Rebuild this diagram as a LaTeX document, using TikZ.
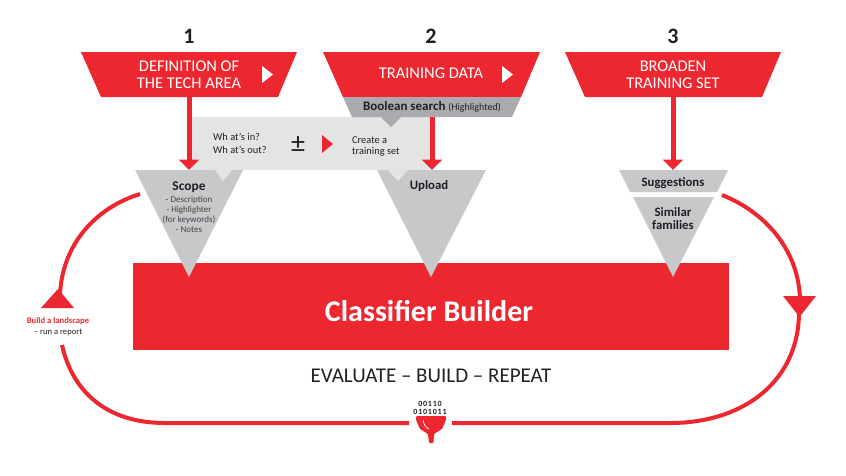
\documentclass[tikz,border=0pt]{standalone}
\usepackage{fontspec}
\setmainfont{Carlito}
\usetikzlibrary{arrows.meta}
\definecolor{cred}{HTML}{EC2730}
\definecolor{cgray}{HTML}{C6C8CA}
\definecolor{clight}{HTML}{E3E4E4}
\definecolor{cdark}{HTML}{A9ABAE}
\definecolor{cink}{HTML}{1F2024}
\newcommand{\fs}[1]{\fontsize{#1}{#1}\selectfont}
\tikzset{
  redshape/.style={fill=cred,draw=none},
  grayshape/.style={fill=cgray,draw=none},
  lightshape/.style={fill=clight,draw=none},
  darkshape/.style={fill=cdark,draw=none},
  playw/.style={fill=white,draw=none},
  banner/.style={text=white,font=\fs{16.4},align=center,inner sep=0pt},
  num/.style={text=cink,font=\fs{22}\bfseries,inner sep=0pt},
  head/.style={text=cink,font=\fs{12.8}\bfseries,inner sep=0pt,align=center},
  small/.style={text=cink!85,font=\fs{9},inner sep=0pt,align=center},
  call/.style={text=cink,font=\fs{10.4},inner sep=0pt,align=left,anchor=west},
  flow/.style={draw=cred,line width=5pt,-{Triangle[width=20pt,length=10.5pt]}},
  loopline/.style={draw=cred,line width=4pt},
  digits/.style={text=cink,font=\fs{8}\bfseries\addfontfeature{LetterSpace=10},inner sep=0pt},
}
\begin{document}
\begin{tikzpicture}[x=1pt,y=-1pt]
\useasboundingbox (0,0) rectangle (846,475);
% named anchor points
\coordinate (b1) at (189,97);
\coordinate (s1) at (189,170);
\coordinate (b2) at (432,117);
\coordinate (s2) at (432,170);
\coordinate (b3) at (673,97);
\coordinate (s3) at (673,170);
% banners
\fill[redshape] (81,52) -- (297,52) -- (278,97) -- (101,97) -- cycle;
\fill[redshape] (323,52) -- (540,52) -- (521,97) -- (343,97) -- cycle;
\fill[redshape] (565,52) -- (781,52) -- (762,97) -- (585,97) -- cycle;
% main block
\node[redshape,minimum width=596pt,minimum height=87pt,inner sep=0pt,anchor=north west] (cb) at (133,263) {};
\node[text=white,font=\fs{30}\bfseries,inner sep=0pt] (cbt) at (429,311) {Classifier Builder};
% gray triangles
\fill[grayshape] (135,170) -- (243,170) -- (189,277) -- cycle;
\fill[grayshape] (377,170) -- (486,170) -- (431,277) -- cycle;
\fill[grayshape] (619,170) -- (728,170) -- (717,192) -- (630,192) -- cycle;
\fill[grayshape] (633,197) -- (714,197) -- (673,277) -- cycle;
% callout
\fill[lightshape] (192,117) -- (430,117) -- (430,170) -- (192,170) -- cycle;
\fill[lightshape] (215,170) -- (232,170) -- (223,181) -- cycle;
\fill[lightshape] (388,170) -- (408,170) -- (398,181) -- cycle;
% boolean strip
\fill[darkshape] (343,97) -- (521,97) -- (512,117) -- (352,117) -- cycle;
\fill[darkshape] (381,117) -- (401,117) -- (391,127) -- cycle;
\node[inner sep=0pt,text=cink] (bool) at (432,107) {\fs{13}\bfseries Boolean search \fs{10}\mdseries(Highlighted)};
% connectors
\draw[flow] (b1) -- (s1);
\draw[flow] (b2) -- (s2);
\draw[flow] (b3) -- (s3);
% play marks
\fill[playw] (262,66) -- (273,74.5) -- (262,83) -- cycle;
\fill[playw] (502,66) -- (513,74.5) -- (502,83) -- cycle;
\fill[redshape] (322,135) -- (333,144) -- (322,153) -- cycle;
% texts
\node[num] (n1) at (189,36) {1};
\node[num] (n2) at (431,36) {2};
\node[num] (n3) at (673,36) {3};
\node[banner] (t1a) at (189,66) {DEFINITION OF};
\node[banner] (t1b) at (189,83) {THE TECH AREA};
\node[banner] (t2) at (431,73.5) {TRAINING DATA};
\node[banner] (t3a) at (673,66) {BROADEN};
\node[banner] (t3b) at (673,83) {TRAINING SET};
\node[call] (w1) at (213,137) {Wh at’s in?};
\node[call] (w2) at (213,149.5) {Wh at’s out?};
\node[call] (c1) at (352,140) {Create a};
\node[call] (c2) at (352,152) {training set};
\node[inner sep=0pt,text=cink,font=\fs{28}] (pm) at (298,145) {±};
\node[head,font=\fs{13.4}\bfseries] (scope) at (189,187) {Scope};
\node[small] (d1) at (189,200) {- Description};
\node[small] (d2) at (189,210) {- Highlighter};
\node[small] (d3) at (189,220) {(for keywords)};
\node[small] (d4) at (189,230) {- Notes};
\node[head] (up) at (429,186) {Upload};
\node[head] (sug) at (673,183.5) {Suggestions};
\node[head] (sim1) at (673,212) {Similar};
\node[head] (sim2) at (673,225) {families};
\node[text=cink,font=\fs{21},inner sep=0pt] (ebr) at (431,376) {EVALUATE – BUILD – REPEAT};
\node[text=cred,font=\fs{8.6}\bfseries,inner sep=0pt] (bl1) at (58,321) {Build a landscape};
\node[text=cink,font=\fs{8.6},inner sep=0pt] (bl2) at (58,332) {– run a report};
% funnel
\coordinate (fl) at (409,423);
\coordinate (fr) at (452,423);
\node[digits] (dg1) at (430,403.5) {00110};
\node[digits] (dg2) at (430,411.5) {0101011};
\fill[redshape,rounded corners=1pt] (416,416) -- (446,416) -- (446,420) -- (442,429) -- (434,434) -- (433.5,443) -- (429,443) -- (428,434) -- (420,429) -- (416,420) -- cycle;
\draw[white,line width=0.7pt] (423,420) .. controls (424,425) and (426,428) .. (429,429);
% loop
\coordinate (la) at (140,194);
\coordinate (lb) at (60,295);
\coordinate (lc) at (62,345);
\coordinate (rd) at (722,195);
\coordinate (re) at (800,300);
\coordinate (rf) at (799,312);
\draw[loopline] (la) .. controls (95,208) and (62,245) .. (lb);
\draw[loopline] (lc) .. controls (72,390) and (105,423) .. (165,423) -- (fl);
\draw[loopline] (fr) -- (670,423) .. controls (745,423) and (799,380) .. (rf);
\draw[loopline] (rd) .. controls (765,212) and (799,250) .. (re);
\fill[redshape] (58,289) -- (74,308) -- (41,308) -- cycle;
\fill[redshape] (783,296) -- (816,296) -- (799.5,317) -- cycle;
\end{tikzpicture}
\end{document}
